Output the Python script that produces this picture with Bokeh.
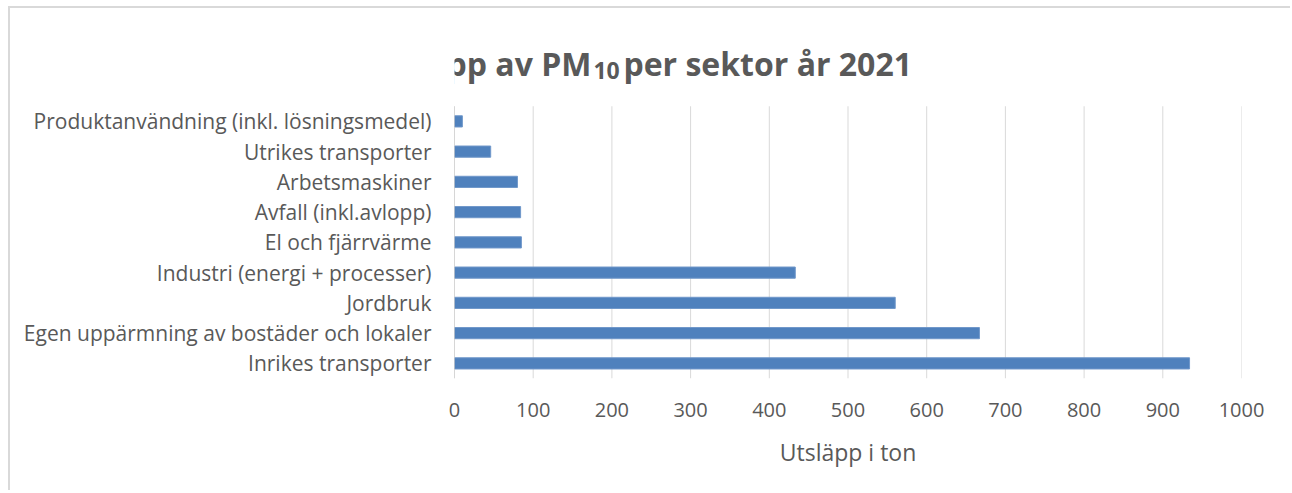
from bokeh.plotting import figure
from bokeh.models import FactorRange, Range1d, FixedTicker
from bokeh.core.properties import value
from bokeh.embed import file_html
from bokeh.resources import INLINE

# Data (bottom to top order as drawn)
sectors = [
    "Inrikes transporter",
    "Egen uppärmning av bostäder och lokaler",
    "Jordbruk",
    "Industri (energi + processer)",
    "El och fjärrvärme",
    "Avfall (inkl.avlopp)",
    "Arbetsmaskiner",
    "Utrikes transporter",
    "Produktanvändning (inkl. lösningsmedel)",
]
emissions = [934, 667, 560, 433, 85, 84, 80, 46, 10]
x_ticks = [0, 100, 200, 300, 400, 500, 600, 700, 800, 900, 1000]

title_main = "Utsläpp av PM"
title_sub = "10"
title_rest = " per sektor år 2021"
x_label = "Utsläpp i ton"

FONT = "Open Sans"
TXT = "#595959"

# blank rows above the categories give room for the title inside the frame
title_rows = [" ", "  ", "   "]
n = len(sectors)
top = n + len(title_rows)

p = figure(
    width=1282, height=484,
    y_range=FactorRange(factors=sectors + title_rows, range_padding=0),
    x_range=Range1d(0, 1000),
    output_backend="svg", toolbar_location=None,
    min_border_left=444, min_border_right=51, min_border_top=7, min_border_bottom=114,
)
p.styles = {"margin-left": "8px", "margin-top": "6px",
            "border-left": "2px solid #d9d9d9", "border-top": "2px solid #d9d9d9"}
p.outline_line_color = None
p.background_fill_color = "white"
p.border_fill_color = "white"

# vertical gridlines only over the category rows
p.segment(x0=x_ticks, y0=[0] * len(x_ticks), x1=x_ticks, y1=[n] * len(x_ticks),
          line_color="#d9d9d9", line_width=1)

p.hbar(y=sectors, right=emissions, left=0, height=0.37,
       fill_color="#4f81bd", line_color="#7098ca", line_width=1)

# category axis line over the category rows
p.segment(x0=[0], y0=[0], x1=[0], y1=[n], line_color="#bfbfbf", line_width=1)

# title with subscript, as text
row_px = 363 / top
title_y = top - 47.7 / row_px
sub_y = title_y - 7 / row_px
split_x = 174
p.text(x=[split_x], y=[title_y], text=[title_main], text_align="right",
       text_baseline="alphabetic", text_font=value(FONT), text_font_style="bold",
       text_font_size="32px", text_color=TXT)
p.text(x=[split_x], y=[sub_y], text=[title_sub], x_offset=2, text_align="left",
       text_baseline="alphabetic", text_font=value(FONT), text_font_style="bold",
       text_font_size="23px", text_color=TXT)
p.text(x=[split_x], y=[title_y], text=[title_rest], x_offset=32, text_align="left",
       text_baseline="alphabetic", text_font=value(FONT), text_font_style="bold",
       text_font_size="32px", text_color=TXT)

# x axis
p.xaxis.ticker = FixedTicker(ticks=x_ticks)
p.xaxis.axis_line_color = None
p.xaxis.major_tick_line_color = None
p.xaxis.minor_tick_line_color = None
p.xaxis.major_label_text_font = FONT
p.xaxis.major_label_text_font_size = "20px"
p.xaxis.major_label_text_color = TXT
p.xaxis.major_label_standoff = 18
p.xaxis.axis_label = x_label
p.xaxis.axis_label_text_font = FONT
p.xaxis.axis_label_text_font_size = "23px"
p.xaxis.axis_label_text_font_style = "normal"
p.xaxis.axis_label_text_color = TXT
p.xaxis.axis_label_standoff = 16

# y axis
p.yaxis.axis_line_color = None
p.yaxis.major_tick_line_color = None
p.yaxis.minor_tick_line_color = None
p.yaxis.major_label_text_font = FONT
p.yaxis.major_label_text_font_size = "21px"
p.yaxis.major_label_text_color = TXT
p.yaxis.major_label_standoff = 17

p.xgrid.grid_line_color = None
p.ygrid.grid_line_color = None

open("out.html", "w").write(file_html(p, INLINE))
